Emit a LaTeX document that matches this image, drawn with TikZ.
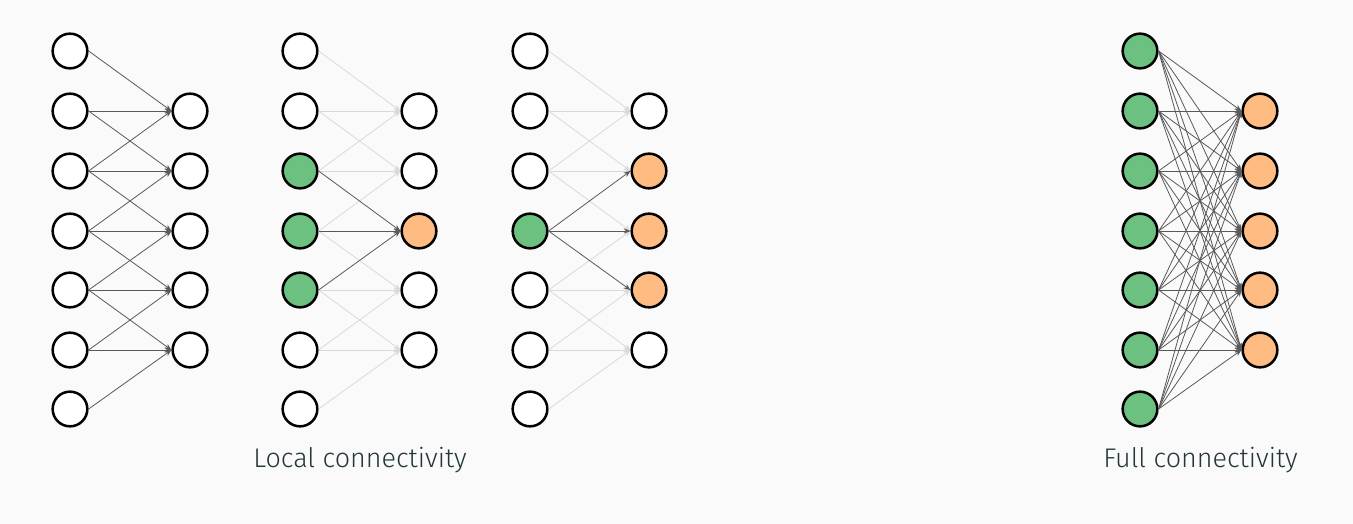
\documentclass[tikz,border=0pt]{standalone}
\usepackage{fontspec}
\setmainfont{Fira Sans}[UprightFont=* Light]
\usetikzlibrary{arrows.meta}
\definecolor{bgc}{HTML}{FAFAFA}
\definecolor{txt}{HTML}{23373B}
\definecolor{grn}{HTML}{6CC180}
\definecolor{org}{HTML}{FFBC82}
\tikzset{
  neuron/.style={circle,draw=black,line width=1.9pt,minimum size=26pt,inner sep=0pt,fill=white},
  gin/.style={neuron,fill=grn},
  gout/.style={neuron,fill=org},
  darkedge/.style={draw=black!65,line width=0.6pt,-{Stealth[length=5pt,width=4pt]}},
  lightedge/.style={draw=black!15,line width=0.6pt,-{Stealth[length=5pt,width=4pt]}},
  caption/.style={text=txt,font=\fontsize{20.2}{24}\selectfont,anchor=base}
}
\begin{document}
\begin{tikzpicture}[x=0.75pt,y=-0.75pt]
\fill[bgc] (0,0) rectangle (1353,524);
\useasboundingbox (0,0) rectangle (1353,524);
% ---------- Panel 1 ----------
\foreach \i/\y in {1/51,2/111,3/171,4/231,5/290,6/350,7/409} \node[neuron] (a\i) at (70,\y) {};
\foreach \j/\y in {1/111,2/171,3/231,4/290,5/350} \node[neuron] (A\j) at (190,\y) {};
\foreach \j in {1,...,5} {
  \foreach \k in {0,1,2} {
    \pgfmathtruncatemacro{\i}{\j+\k}
    \draw[darkedge] (a\i.east) -- (A\j.west);
  }
}
% ---------- Panel 2 ----------
\foreach \i/\y in {1/51,2/111,6/350,7/409} \node[neuron] (b\i) at (300,\y) {};
\foreach \i/\y in {3/171,4/231,5/290} \node[gin] (b\i) at (300,\y) {};
\foreach \j/\y in {1/111,2/171,4/290,5/350} \node[neuron] (B\j) at (419,\y) {};
\node[gout] (B3) at (419,231) {};
\foreach \j in {1,2,4,5} {
  \foreach \k in {0,1,2} {
    \pgfmathtruncatemacro{\i}{\j+\k}
    \draw[lightedge] (b\i.east) -- (B\j.west);
  }
}
\foreach \i in {3,4,5} \draw[darkedge] (b\i.east) -- (B3.west);
% ---------- Panel 3 ----------
\foreach \i/\y in {1/51,2/111,3/171,5/290,6/350,7/409} \node[neuron] (c\i) at (530,\y) {};
\node[gin] (c4) at (530,231) {};
\node[neuron] (C1) at (649,111) {};
\node[neuron] (C5) at (649,350) {};
\foreach \j/\y in {2/171,3/231,4/290} \node[gout] (C\j) at (649,\y) {};
\foreach \j in {1,...,5} {
  \foreach \k in {0,1,2} {
    \pgfmathtruncatemacro{\i}{\j+\k}
    \ifnum\i=4\else\draw[lightedge] (c\i.east) -- (C\j.west);\fi
  }
}
\foreach \j in {2,3,4} \draw[darkedge] (c4.east) -- (C\j.west);
% ---------- Panel 4 ----------
\foreach \i/\y in {1/51,2/111,3/171,4/231,5/290,6/350,7/409} \node[gin] (d\i) at (1140,\y) {};
\foreach \j/\y in {1/111,2/171,3/231,4/290,5/350} \node[gout] (D\j) at (1260,\y) {};
\foreach \i in {1,...,7} \foreach \j in {1,...,5} \draw[darkedge] (d\i.east) -- (D\j.west);
% ---------- Captions ----------
\node[caption] (cap1) at (360,467) {Local connectivity};
\node[caption] (cap2) at (1200.5,467) {Full connectivity};
\end{tikzpicture}
\end{document}
